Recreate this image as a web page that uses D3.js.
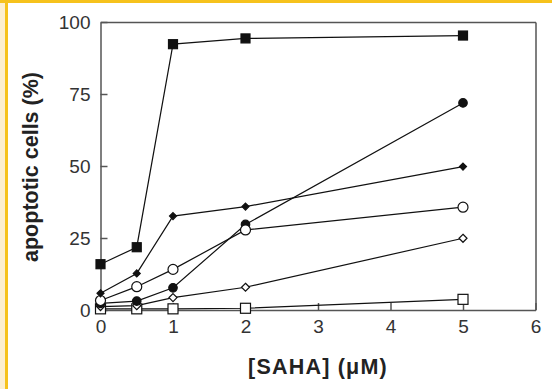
<!DOCTYPE html>
<html>
<head>
<meta charset="utf-8">
<script src="https://cdn.jsdelivr.net/npm/d3@7"></script>
<style>
  html, body { margin: 0; padding: 0; background: #fff; }
  .chart-container { width: 552px; height: 389px; position: relative; }
  .axis text { font-family: "Liberation Sans", Arial, sans-serif; font-size: 19px; fill: #333; }
  .axis path, .axis line { stroke: #555; stroke-width: 1.5px; }
  .title { font-family: "Liberation Sans", Arial, sans-serif; font-weight: bold; font-size: 21.5px; fill: #222; }
  .series-line { fill: none; stroke: #111; stroke-width: 1.2px; }
</style>
</head>
<body>
<div class="chart-container"></div>
<script>
// SAHA dose (uM)
const doses = [0, 0.5, 1, 2, 5];

// apoptotic cells (%) for each series
const filledSquare = [15.9, 21.8, 92.3, 94.3, 95.3];
const filledCircle = [2.3, 3.1, 7.7, 29.7, 71.9];
const filledDiamond = [5.8, 12.7, 32.6, 35.9, 49.8];
const openCircle = [3.3, 8.1, 14.1, 27.8, 35.7];
const openDiamond = [1.2, 1.5, 4.3, 7.9, 24.9];
const openSquare = [0.4, 0.4, 0.4, 0.6, 3.7];

const xTicks = [0, 1, 2, 3, 4, 5, 6];
const yTicks = [0, 25, 50, 75, 100];

const series = [
    { values: openSquare, shape: 'square', filled: false, size: 10 },
    { values: openDiamond, shape: 'diamond', filled: false, size: 8 },
    { values: filledCircle, shape: 'circle', filled: true, size: 8.5 },
    { values: openCircle, shape: 'circle', filled: false, size: 10 },
    { values: filledDiamond, shape: 'diamond', filled: true, size: 7 },
    { values: filledSquare, shape: 'square', filled: true, size: 9 }
];

const W = 552, H = 389;
const svg = d3.select('.chart-container').append('svg')
    .attr('width', W).attr('height', H);

// page frame (yellow border on top and left)
svg.append('rect').attr('x', 0).attr('y', 0).attr('width', 5).attr('height', H).attr('fill', '#fcefcf');
svg.append('rect').attr('x', 5).attr('y', 0).attr('width', 3).attr('height', H).attr('fill', '#f6c21c');
svg.append('rect').attr('x', 0).attr('y', 0).attr('width', W).attr('height', 3).attr('fill', '#f6c21c');

const x = d3.scaleLinear().domain([0, 6]).range([100.5, 535.5]);
const y = d3.scaleLinear().domain([0, 100]).range([310, 22]);

// axes with inward ticks
svg.append('g').attr('class', 'axis')
    .attr('transform', 'translate(0,310)')
    .call(d3.axisBottom(x).tickValues(xTicks).tickFormat(d3.format('d'))
        .tickSizeInner(-7).tickSizeOuter(0).tickPadding(10));

svg.append('g').attr('class', 'axis')
    .attr('transform', 'translate(100.5,0)')
    .call(d3.axisLeft(y).tickValues(yTicks).tickFormat(d3.format('d'))
        .tickSizeInner(-7).tickSizeOuter(0).tickPadding(10));

// top and right of the box
svg.append('g').attr('class', 'axis')
    .attr('transform', 'translate(0,22)')
    .call(d3.axisTop(x).tickValues([]).tickSizeOuter(0));
svg.append('g').attr('class', 'axis')
    .attr('transform', 'translate(535.5,0)')
    .call(d3.axisRight(y).tickValues([]).tickSizeOuter(0));

const line = d3.line()
    .x((d, i) => x(doses[i]))
    .y(d => y(d));

series.forEach(s => {
    svg.append('path').attr('class', 'series-line').attr('d', line(s.values));
});

series.forEach(s => {
    const g = svg.append('g');
    const fill = s.filled ? '#111' : '#fff';
    s.values.forEach((v, i) => {
        const cx = x(doses[i]), cy = y(v), r = s.size / 2;
        if (s.shape === 'square') {
            g.append('rect').attr('x', cx - r).attr('y', cy - r)
                .attr('width', s.size).attr('height', s.size)
                .attr('fill', fill).attr('stroke', '#111').attr('stroke-width', 1.2);
        } else if (s.shape === 'circle') {
            g.append('circle').attr('cx', cx).attr('cy', cy).attr('r', r)
                .attr('fill', fill).attr('stroke', '#111').attr('stroke-width', 1.2);
        } else {
            g.append('path')
                .attr('d', `M${cx},${cy - r}L${cx + r},${cy}L${cx},${cy + r}L${cx - r},${cy}Z`)
                .attr('fill', fill).attr('stroke', '#111').attr('stroke-width', 1.2);
        }
    });
});

// axis titles
svg.append('text').attr('class', 'title')
    .attr('x', 318).attr('y', 374)
    .attr('text-anchor', 'middle')
    .style('letter-spacing', '1.2px')
    .text('[SAHA] (μM)');

svg.append('text').attr('class', 'title')
    .attr('transform', 'translate(38,167) rotate(-90)')
    .attr('text-anchor', 'middle')
    .text('apoptotic cells (%)');
</script>
</body>
</html>
